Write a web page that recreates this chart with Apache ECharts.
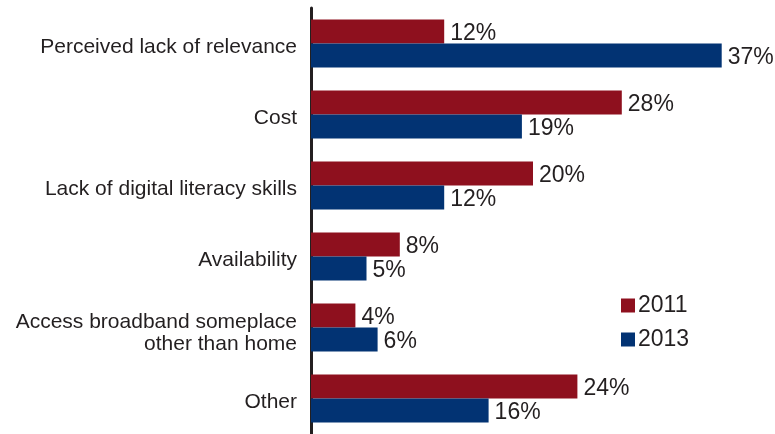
<!DOCTYPE html>
<html><head><meta charset="utf-8">
<script src="https://cdn.jsdelivr.net/npm/echarts@6/dist/echarts.min.js"></script>
<style>html,body{margin:0;padding:0;background:#fff}#c{width:775px;height:434px}</style>
</head><body><div id="c"></div>
<script>
const categories = ["Perceived lack of relevance","Cost","Lack of digital literacy skills","Availability","Access broadband someplace\nother than home","Other"];
const values2011 = [12,28,20,8,4,24];
const values2013 = [37,19,12,5,6,16];
const seriesNames = ["2011","2013"];

const FF = 'Liberation Sans, Arial, sans-serif';
const chart = echarts.init(document.getElementById('c'), null, {renderer:'canvas'});
const lbl = {show:true, position:'right', distance:6, offset:[0,2], formatter:'{c}%', color:'#231F20', fontSize:23, fontFamily:FF};
chart.setOption({
  animation:false,
  textStyle:{fontFamily:FF},
  grid:{left:311, top:8, width:444, height:427, containLabel:false},
  legend:{orient:'vertical', left:621, top:294, padding:0, itemWidth:14, itemHeight:14, itemGap:11, icon:'rect',
    textStyle:{fontSize:23, color:'#231F20', fontFamily:FF, padding:[0,0,0,-2]}},
  xAxis:{type:'value', min:0, max:40, show:false},
  yAxis:{type:'category', data:categories, inverse:true,
    axisLine:{show:true, lineStyle:{color:'#231F20', width:3}},
    axisTick:{show:false},
    axisLabel:{margin:14, fontFamily:FF,
      formatter:function(v){
        const parts = v.split('\n');
        if (parts.length === 1) return '{f|' + v + '}';
        return parts.map(function(s,i){ return (i===0?'{g|':'{a|')+s+'}'; }).join('\n');
      },
      rich:{
        f:{fontSize:21, color:'#231F20', lineHeight:23, padding:[8,0,0,0], fontFamily:FF},
        g:{fontSize:21, color:'#231F20', lineHeight:23, padding:[12,0,0,0], fontFamily:FF},
        a:{fontSize:21, color:'#231F20', lineHeight:23, padding:[10,0,0,0], fontFamily:FF}
      }}},
  series:[
    {name:seriesNames[0], type:'bar', data:values2011, barWidth:24, barGap:'0%', itemStyle:{color:'#8E101E'}, label:lbl},
    {name:seriesNames[1], type:'bar', data:values2013, barWidth:24, barGap:'0%', itemStyle:{color:'#023373'}, label:lbl}
  ]
});
</script></body></html>
